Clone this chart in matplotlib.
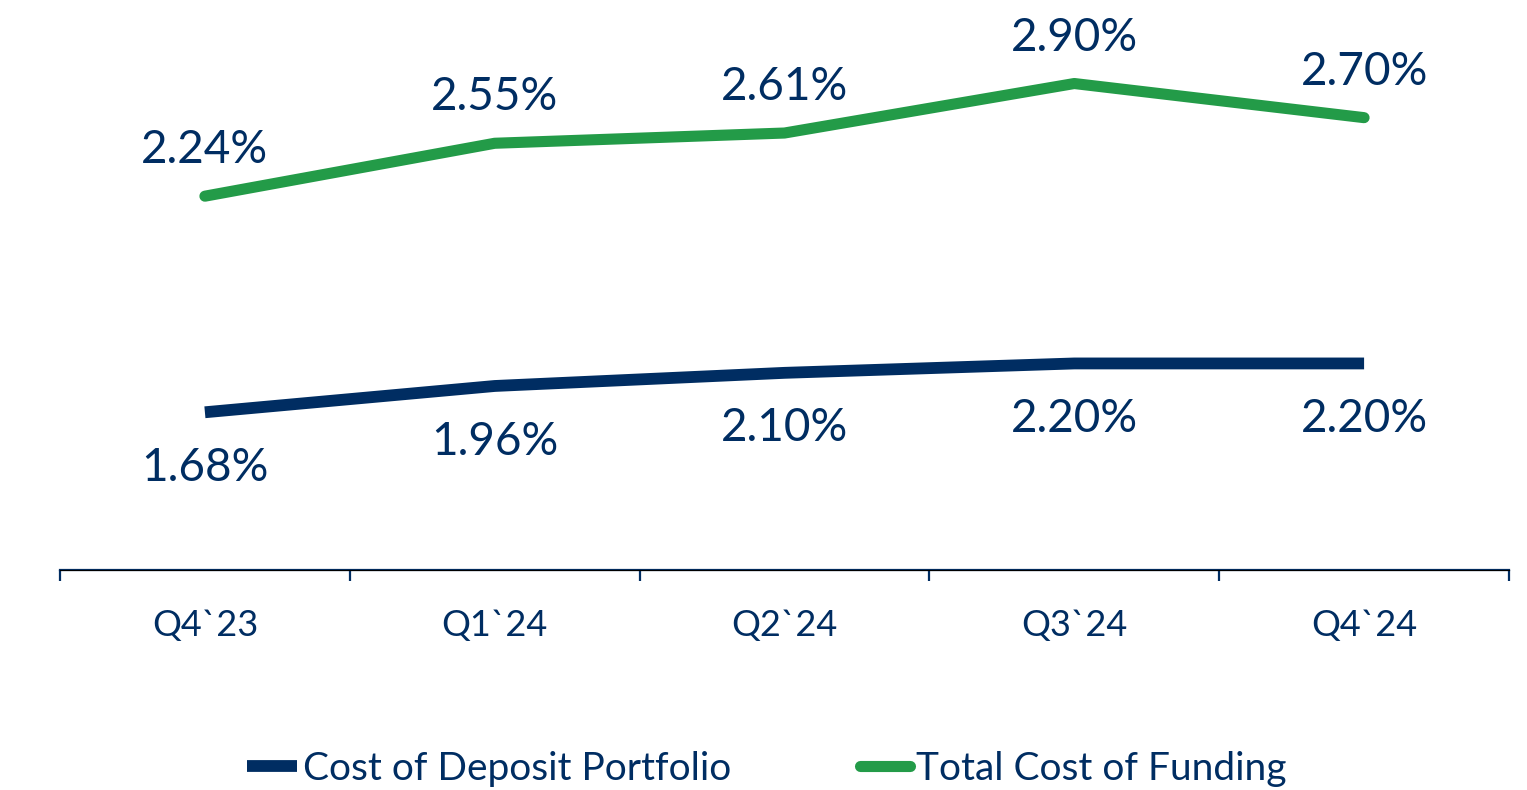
import matplotlib.pyplot as plt
import numpy as np

NAVY = '#002D62'
GREEN = '#239B48'

quarters = ['Q4`23', 'Q1`24', 'Q2`24', 'Q3`24', 'Q4`24']
deposit_cost = [1.68, 1.96, 2.10, 2.20, 2.20]
funding_cost = [2.24, 2.55, 2.61, 2.90, 2.70]

plt.rcParams['font.family'] = ['Lato', 'DejaVu Sans']

fig = plt.figure(figsize=(15.27, 7.90), dpi=100)
ax = fig.add_axes([0.0393, 0.2785, 0.9489, 0.713])
ax2 = ax.twinx()

x = np.arange(len(quarters))
l1, = ax.plot(x, deposit_cost, color=NAVY, lw=8.5, solid_capstyle='butt',
              label='Cost of Deposit Portfolio')
l2, = ax2.plot(x, funding_cost, color=GREEN, lw=8, solid_capstyle='round',
               label='Total Cost of Funding')

ax.set_ylim(0, 6.0)
ax2.set_ylim(0.05, 3.35)
ax.set_xlim(-0.5, len(quarters) - 0.5)

for i, v in enumerate(deposit_cost):
    ax.annotate(f'{v:.2f}%', (i, v), xytext=(0, -40), textcoords='offset points',
                ha='center', va='center', fontsize=33, color=NAVY)
for i, v in enumerate(funding_cost):
    ax2.annotate(f'{v:.2f}%', (i, v), xytext=(0, 33), textcoords='offset points',
                 ha='center', va='center', fontsize=33, color=NAVY)

for a in (ax, ax2):
    for s in ('top', 'left', 'right'):
        a.spines[s].set_visible(False)
    a.set_yticks([])
ax.spines['bottom'].set_color(NAVY)
ax.spines['bottom'].set_linewidth(1.6)

ax.set_xticks(x)
ax.set_xticklabels(quarters, fontsize=26, color=NAVY)
ax.tick_params(axis='x', which='major', length=0, pad=28)
ax.set_xticks(np.arange(-0.5, len(quarters)), minor=True)
ax.tick_params(axis='x', which='minor', length=8, width=1.6, color=NAVY, direction='out')

leg = fig.legend([l1, l2], [l1.get_label(), l2.get_label()], loc='center',
                 bbox_to_anchor=(0.502, 0.027), ncol=2, frameon=False,
                 fontsize=28, handlelength=1.3, handletextpad=0.15, columnspacing=3.3)
for t in leg.get_texts():
    t.set_color(NAVY)

fig.savefig('out.png', dpi=100)
